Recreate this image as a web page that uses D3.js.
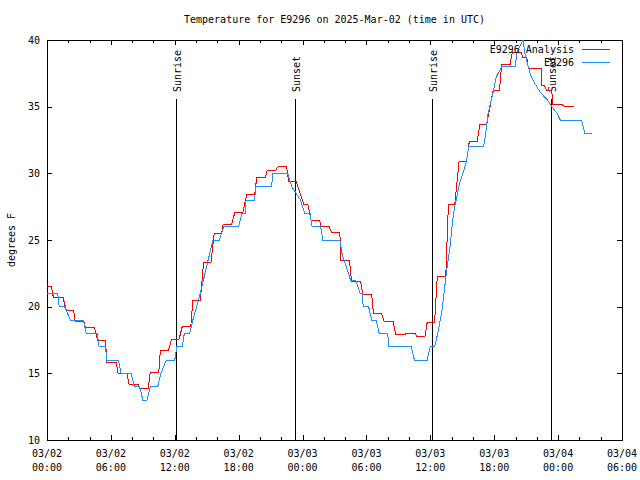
<!DOCTYPE html>
<html>
<head>
<meta charset="utf-8">
<script src="https://cdn.jsdelivr.net/npm/d3@7"></script>
<style>
  html, body { margin: 0; padding: 0; background: #fff; }
  text { font-family: "DejaVu Sans Mono", "Liberation Mono", monospace; font-size: 10px; fill: #000; }
</style>
</head>
<body>
<svg id="chart" width="640" height="480"></svg>
<script>
// ---- data (hours since 2025-03-02 00:00 UTC, temperature in degrees F) ----
const analysisHours = [0,0.4,0.6,1.5,1.8,2.5,2.65,3.45,3.6,4.45,4.75,5.5,5.6,6.5,6.67,7.5,7.7,8.55,8.7,9.5,9.7,10.5,10.65,11.4,11.7,12.4,12.7,13.5,13.7,14.4,14.7,15.4,15.7,16.4,16.55,17.35,17.65,18.4,18.75,19.5,19.7,20.5,20.7,21.5,21.7,22.5,22.7,23.4,23.8,24.1,24.5,24.8,25.6,25.75,26.5,26.7,27.5,27.6,28.4,28.6,29.45,29.65,30.5,30.65,31.4,31.65,32.5,32.75,33.6,33.7,34.56,34.7,35.5,35.7,36.4,36.65,37.45,37.7,38.3,38.7,39.4,39.66,40.4,40.66,41.3,41.9,42.5,42.7,43.5,43.7,44.5,44.7,45.05,45.2,46.4,46.45,46.7,46.9,47.4,47.5,48.3,48.6,49.5];
const analysisTemps = [21.5,21.5,20.7,20.7,19.75,19.75,18.9,18.9,18.45,18.45,17.5,17.5,15.8,15.8,15,15,14.2,14.2,13.9,13.9,15.1,15.1,16.75,16.75,17.55,17.55,18.5,18.5,20.45,20.45,23.3,23.3,25.5,25.5,26.2,26.2,27.1,27.1,28.4,28.4,29.7,29.7,30.25,30.25,30.5,30.5,29.4,29.4,28.4,27.7,27.7,26.5,26.5,26.0,26.0,25.6,25.6,23.5,23.5,21.9,21.9,20.9,20.9,19.5,19.5,18.9,18.9,17.9,17.9,18,18,17.8,17.8,18.8,18.8,22.25,22.25,27.7,27.7,30.9,30.9,32.4,32.4,33.7,33.7,36.25,36.25,38.2,38.2,39.1,39.1,38.7,38.7,37.9,37.9,36.6,36.6,36.25,36.25,35.2,35.2,35,35];

const observedHours = [0,1.0,1.15,1.66,2.2,3.4,3.7,4.7,4.9,5.5,5.6,6.7,6.95,7.9,8.2,8.7,9.0,9.4,9.7,10.4,10.7,11.2,12.0,12.2,12.7,12.9,13.4,13.7,14.4,15.1,15.6,16.2,16.6,18.0,18.3,18.6,18.7,19.5,19.6,21.1,21.2,22.6,23.0,23.8,24.2,24.7,24.9,25.7,25.9,27.5,27.7,28.1,28.5,29.0,29.4,29.6,29.7,30.2,30.5,30.9,31.2,32.0,32.1,34.2,34.5,35.7,36.0,36.4,36.7,37.1,37.5,37.85,38.1,38.3,38.5,38.75,39.1,39.4,39.6,41.0,41.2,41.4,41.9,42.2,42.7,44.0,44.1,44.7,44.9,45.2,45.4,45.7,46.3,47.1,47.4,47.9,48.2,50.2,50.5,51.2];
const observedTemps = [21,21,20,20,19,19,18,18,17,17,16,16,15,15,14,14,13,13,14,14,15,16,16,17,17,18,18,19,21,23.4,25,25,26,26,27,27,28,28,29,29,30,30,29,28,27,27,26,26,25,25,24,23,22,22,21,21,20,20,19,19,18,18,17,17,16,16,17,17,18,19.75,22.5,24.5,26.5,27.6,28.25,29.25,30.1,30.9,32,32,33,34.4,36.1,37.25,38,38,39,40,38.9,38,37.4,36.9,36.1,35.4,35,34.5,34,34,33,33];

const sunHours  = [12.14, 23.32, 36.19, 47.33];
const sunLabels = ["Sunrise", "Sunset", "Sunrise", "Sunset"];

const xMajorTicks = [0,6,12,18,24,30,36,42,48,54];
const xTickDates  = ["03/02","03/02","03/02","03/02","03/03","03/03","03/03","03/03","03/04","03/04"];
const xTickTimes  = ["00:00","06:00","12:00","18:00","00:00","06:00","12:00","18:00","00:00","06:00"];
const yTicks = [10,15,20,25,30,35,40];

const seriesNames  = ["E9296 Analysis", "E9296"];
const seriesColors = ["#ff0000", "#1e8fff"];
const titleText = "Temperature for E9296 on 2025-Mar-02 (time in UTC)";
const yLabel = "degrees F";

// ---- layout ----
const L = 47, R = 622, T = 40, B = 440;
const svg = d3.select("#chart");
const x = d3.scaleLinear().domain([0, 54]).range([L, R]);
const y = d3.scaleLinear().domain([10, 40]).range([B, T]);

const xMinorTicks = d3.range(0, 55, 2).filter(h => h % 6 !== 0);

function styleAxis(g) {
  g.select(".domain").remove();
  g.selectAll("line").attr("stroke", "#000").attr("shape-rendering", "crispEdges");
  g.selectAll("text").remove();
}

svg.append("g").attr("transform", `translate(0,${B})`)
  .call(d3.axisBottom(x).tickValues(xMajorTicks).tickSize(-5).tickFormat("")).call(styleAxis);
svg.append("g").attr("transform", `translate(0,${B})`)
  .call(d3.axisBottom(x).tickValues(xMinorTicks).tickSize(-3).tickFormat("")).call(styleAxis);
svg.append("g").attr("transform", `translate(0,${T})`)
  .call(d3.axisTop(x).tickValues(xMajorTicks).tickSize(-5).tickFormat("")).call(styleAxis);
svg.append("g").attr("transform", `translate(0,${T})`)
  .call(d3.axisTop(x).tickValues(xMinorTicks).tickSize(-3).tickFormat("")).call(styleAxis);
svg.append("g").attr("transform", `translate(${L},0)`)
  .call(d3.axisLeft(y).tickValues(yTicks).tickSize(-5).tickFormat("")).call(styleAxis);
svg.append("g").attr("transform", `translate(${R},0)`)
  .call(d3.axisRight(y).tickValues(yTicks).tickSize(-5).tickFormat("")).call(styleAxis);

// tick labels
xMajorTicks.forEach((t, i) => {
  svg.append("text").attr("x", x(t)).attr("y", 457).attr("text-anchor", "middle").text(xTickDates[i]);
  svg.append("text").attr("x", x(t)).attr("y", 471).attr("text-anchor", "middle").text(xTickTimes[i]);
});
yTicks.forEach(v => {
  svg.append("text").attr("x", 40).attr("y", y(v) + 3.6).attr("text-anchor", "end").text(v);
});

// border
svg.append("rect").attr("x", L + 0.5).attr("y", T + 0.5)
  .attr("width", R - L).attr("height", B - T)
  .attr("fill", "none").attr("stroke", "#000").attr("shape-rendering", "crispEdges");

// title & axis label
svg.append("text").attr("x", (L + R) / 2).attr("y", 23).attr("text-anchor", "middle").text(titleText);
svg.append("text").attr("transform", `translate(15,${(T + B) / 2}) rotate(-90)`)
  .attr("text-anchor", "middle").text(yLabel);

// sunrise / sunset markers
sunHours.forEach((h, i) => {
  const px = Math.round(x(h)) + 0.5;
  svg.append("line").attr("x1", px).attr("x2", px).attr("y1", 99).attr("y2", B)
    .attr("stroke", "#000").attr("stroke-width", 1).attr("shape-rendering", "crispEdges");
  svg.append("text").attr("transform", `translate(${px + 4},92) rotate(-90)`)
    .attr("text-anchor", "start").text(sunLabels[i]);
});

// series
const line = d3.line().x(d => x(d[0])).y(d => y(d[1]));
const analysis = analysisHours.map((h, i) => [h, analysisTemps[i]]);
const observed = observedHours.map((h, i) => [h, observedTemps[i]]);
[analysis, observed].forEach((data, i) => {
  svg.append("path").datum(data).attr("d", line)
    .attr("fill", "none").attr("stroke", seriesColors[i]).attr("stroke-width", 1)
    .attr("shape-rendering", "crispEdges");
});

// legend
seriesNames.forEach((name, i) => {
  const ly = 49 + i * 13;
  svg.append("text").attr("x", 574).attr("y", ly + 3.6).attr("text-anchor", "end").text(name);
  svg.append("line").attr("x1", 582).attr("x2", 610).attr("y1", ly + 0.5).attr("y2", ly + 0.5)
    .attr("stroke", seriesColors[i]).attr("stroke-width", 1).attr("shape-rendering", "crispEdges");
});
</script>
</body>
</html>
